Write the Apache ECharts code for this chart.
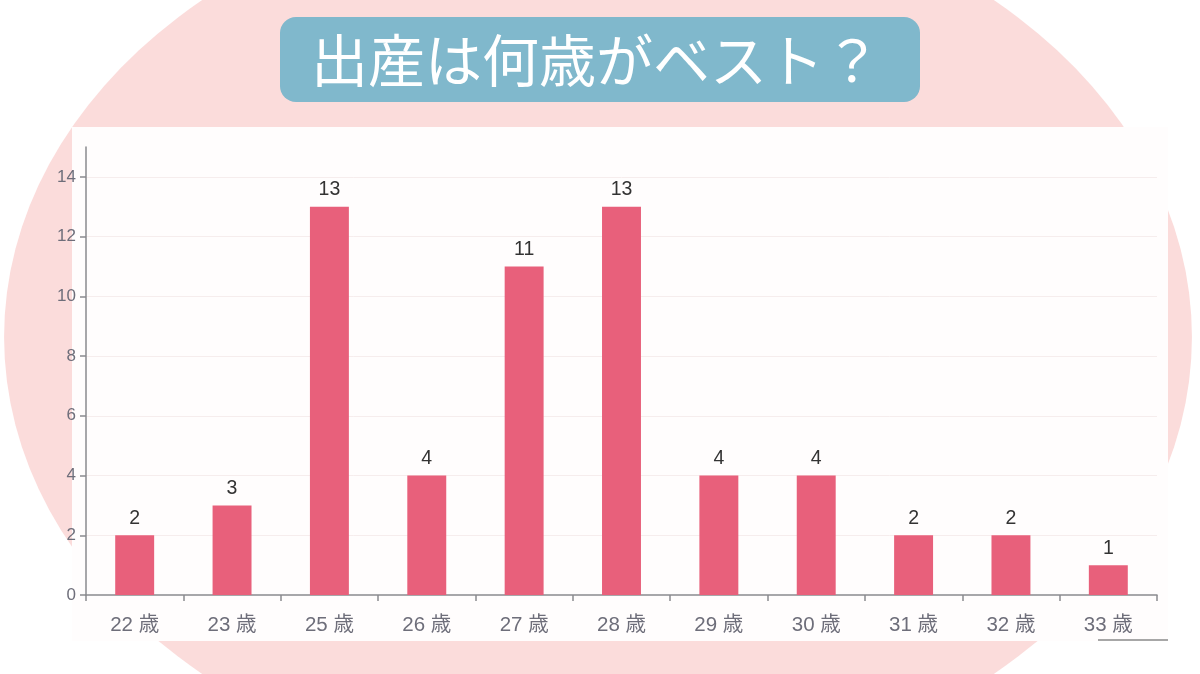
<!DOCTYPE html>
<html>
<head>
<meta charset="utf-8">
<script src="https://cdn.jsdelivr.net/npm/echarts@6/dist/echarts.min.js"></script>
<style>
html,body{margin:0;padding:0;background:#ffffff;}
#chart{width:1200px;height:674px;}
</style>
</head>
<body>
<div id="chart"></div>
<script>
const titleText = '出産は何歳がベスト？';
const categories = ['22 歳','23 歳','25 歳','26 歳','27 歳','28 歳','29 歳','30 歳','31 歳','32 歳','33 歳'];
const counts = [2, 3, 13, 4, 11, 13, 4, 4, 2, 2, 1];
const yTicks = { min: 0, max: 15, interval: 2 };
const gridValues = [2, 4, 6, 8, 10, 12, 14];

const chart = echarts.init(document.getElementById('chart'));
const font = '"Liberation Sans", "Noto Sans CJK JP", sans-serif';
chart.setOption({
  animation: false,
  backgroundColor: '#ffffff',
  graphic: [
    { type: 'circle', z: -10, x: 598, y: 337, scaleX: 1.314, shape: { cx: 0, cy: 0, r: 452 }, style: { fill: '#fbdcdb' }, silent: true },
    { type: 'rect', z: -9, shape: { x: 72, y: 127, width: 1096, height: 514 }, style: { fill: '#fffdfd' }, silent: true },
    { type: 'line', z: -8, shape: { x1: 1098, y1: 640, x2: 1168, y2: 640 }, style: { stroke: '#8a8a8a', lineWidth: 1.5 }, silent: true },
    { type: 'rect', z: 10, shape: { x: 280, y: 17, width: 640, height: 85, r: 16 }, style: { fill: '#80b8cc' }, silent: true },
    { type: 'text', z: 11, x: 596, y: 60, style: { text: titleText, fill: '#ffffff', font: 'normal 57px "Noto Sans CJK JP", sans-serif', textAlign: 'center', textVerticalAlign: 'middle' }, silent: true }
  ],
  grid: { left: 86, right: 43, top: 147, bottom: 79, containLabel: false },
  xAxis: {
    type: 'category',
    data: categories,
    boundaryGap: true,
    axisLine: { lineStyle: { color: '#8a8a8e', width: 1.5 } },
    axisTick: { show: true, length: 6, lineStyle: { color: '#8a8a8e', width: 1.5 } },
    axisLabel: { color: '#6e6e7a', fontSize: 20.5, margin: 20, fontFamily: font }
  },
  yAxis: {
    type: 'value',
    min: yTicks.min, max: yTicks.max, interval: yTicks.interval,
    axisLine: { show: true, lineStyle: { color: '#8a8a8e', width: 1.5 } },
    axisTick: { show: true, length: 6, lineStyle: { color: '#8a8a8e', width: 1.5 } },
    axisLabel: { color: '#6e6e7a', fontSize: 17, margin: 10, fontFamily: font, showMaxLabel: false },
    splitLine: { show: false }
  },
  series: [{
    type: 'bar',
    data: counts,
    barWidth: '40%',
    itemStyle: { color: '#e8607b' },
    label: { show: true, position: 'top', distance: 7, color: '#333333', fontSize: 19.5, fontFamily: font },
    markLine: {
      silent: true,
      symbol: 'none',
      z: 0,
      label: { show: false },
      lineStyle: { color: '#f6eded', width: 1, type: 'solid' },
      data: gridValues.map(v => ({ yAxis: v }))
    }
  }]
});
</script>
</body>
</html>
